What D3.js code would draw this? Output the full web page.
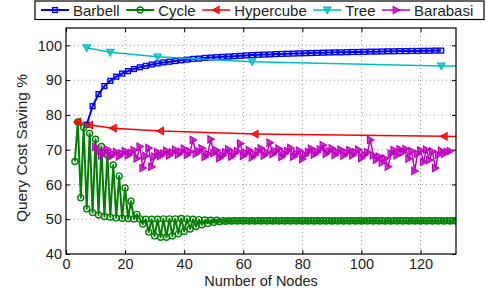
<!DOCTYPE html>
<html><head><meta charset="utf-8">
<script src="https://cdn.jsdelivr.net/npm/d3@7"></script>
<style>
html,body{margin:0;padding:0;background:#fff;}
text{font-family:"Liberation Sans",Arial,Helvetica,sans-serif;}
</style></head>
<body>
<svg id="chart" width="491" height="297"></svg>
<script>
// ---------- data ----------
const seriesNames = ["Barbell","Cycle","Hypercube","Tree","Barabasi"];
const xTicks = [0,20,40,60,80,100,120];
const yTicks = [40,50,60,70,80,90,100];

const barbellN = [7,9,11,13,15,17,19,21,23,25,27,29,31,33,35,37,39,41,43,45,47,49,51,53,55,57,59,61,63,65,67,69,71,73,75,77,79,81,83,85,87,89,91,93,95,97,99,101,103,105,107,109,111,113,115,117,119,121,123,125,127];
const barbellV = [77.2,82.5,86.0,88.3,89.8,91.0,91.9,92.6,93.2,93.7,94.1,94.5,94.8,95.1,95.3,95.5,95.7,95.9,96.1,96.2,96.4,96.5,96.6,96.7,96.8,96.9,97.0,97.1,97.2,97.3,97.35,97.4,97.5,97.55,97.6,97.65,97.7,97.75,97.8,97.85,97.9,97.95,98.0,98.0,98.05,98.1,98.1,98.15,98.2,98.2,98.25,98.3,98.3,98.35,98.35,98.4,98.4,98.45,98.45,98.5,98.5];

const cycleStart = 3; // values for n = 3,4,5,...,132
const cycleV = [
 66.6,78.0,56.2,76.4,53.0,74.7,51.9,73.0,51.2,70.9,
 50.8,68.5,50.6,65.6,50.4,62.4,50.3,59.0,50.2,55.2,
 50.1,51.4,50.1,48.6,50.0,46.3,50.0,45.2,50.0,44.8,
 50.1,44.8,50.1,45.2,50.1,45.8,50.2,46.5,50.1,47.2,
 50.0,47.9,49.9,48.4,49.8,48.8,49.7,49.1,49.7,49.3,
 49.6,49.4,49.6,49.5,49.6,49.5,49.6,49.5,49.6,49.5,
 49.6,49.5,49.6,49.5,49.6,49.5,49.6,49.5,49.6,49.5,
 49.6,49.5,49.6,49.5,49.6,49.5,49.6,49.5,49.6,49.5,
 49.6,49.5,49.6,49.5,49.6,49.5,49.6,49.5,49.6,49.5,
 49.6,49.5,49.6,49.5,49.6,49.5,49.6,49.5,49.6,49.5,
 49.6,49.5,49.6,49.5,49.6,49.5,49.6,49.5,49.6,49.5,
 49.6,49.5,49.6,49.5,49.6,49.5,49.6,49.5,49.6,49.5,
 49.6,49.5,49.6,49.5,49.6,49.5,49.6,49.5,49.6,49.5];

const hyperN = [4,8,16,32,64,128,256];
const hyperV = [78.0,77.1,76.2,75.4,74.5,73.85,73.2];

const treeN = [7,15,31,63,127,255];
const treeV = [99.3,98.0,96.7,95.3,94.1,93.0];

const barabasiStart = 10; // values for n = 10,11,...,130
const barabasiV = [
 70.8,69.5,68.3,69.2,70.1,68.0,68.7,69.4,68.1,68.9,
 69.6,68.4,69.1,69.9,67.5,70.9,64.7,68.2,70.5,65.1,
 68.0,69.3,68.2,68.9,69.7,68.4,69.2,70.0,68.6,69.4,
 70.3,68.5,69.4,72.8,68.8,69.5,70.4,67.9,68.8,73.0,
 69.0,69.8,67.6,68.3,69.2,70.1,68.0,68.9,69.6,71.8,
 68.2,69.0,69.9,67.8,68.6,69.5,70.4,68.3,69.1,72.0,
 68.7,69.5,70.3,67.9,68.8,69.6,70.5,68.0,68.9,69.7,
 67.3,68.5,69.4,70.3,68.6,69.3,70.1,71.3,68.8,69.6,
 70.4,68.5,69.2,70.0,68.3,69.1,69.9,68.4,69.2,70.0,
 67.6,68.5,69.3,72.8,68.4,67.1,68.0,66.3,67.5,65.1,
 68.9,69.9,68.4,70.1,69.2,70.2,67.4,69.6,63.9,68.8,
 69.8,66.5,70.0,67.0,69.5,64.7,68.6,69.7,68.8,69.4,69.6];

// ---------- build ----------
const series = [
 {name:seriesNames[0], color:"#0000ff", marker:"square", width:2,
  pts: barbellN.map((n,i)=>[n,barbellV[i]])},
 {name:seriesNames[1], color:"#008000", marker:"circle", width:2,
  pts: cycleV.map((v,i)=>[cycleStart+i,v])},
 {name:seriesNames[2], color:"#ff0000", marker:"tri-left", width:1.5,
  pts: hyperN.map((n,i)=>[n,hyperV[i]])},
 {name:seriesNames[3], color:"#00bfbf", marker:"tri-down", width:1.5,
  pts: treeN.map((n,i)=>[n,treeV[i]])},
 {name:seriesNames[4], color:"#bf00bf", marker:"tri-right", width:1.5,
  pts: barabasiV.map((v,i)=>[barabasiStart+i,v])}
];

const svg = d3.select("#chart");
const M = {left:66, right:456, top:28, bottom:254};
const x = d3.scaleLinear().domain([0,132]).range([M.left,M.right]);
const y = d3.scaleLinear().domain([40,105]).range([M.bottom,M.top]);

svg.append("defs").append("clipPath").attr("id","clip")
  .append("rect").attr("x",M.left).attr("y",M.top)
  .attr("width",M.right-M.left).attr("height",M.bottom-M.top);

// grid
const grid = svg.append("g");
grid.selectAll(".gx").data(xTicks.filter(t=>t>0)).enter().append("line")
  .attr("x1",d=>x(d)).attr("x2",d=>x(d)).attr("y1",M.top).attr("y2",M.bottom)
  .attr("stroke","#999").attr("stroke-width",1).attr("stroke-dasharray","1,3");
grid.selectAll(".gy").data(yTicks.filter(t=>t>40)).enter().append("line")
  .attr("y1",d=>y(d)).attr("y2",d=>y(d)).attr("x1",M.left).attr("x2",M.right)
  .attr("stroke","#999").attr("stroke-width",1).attr("stroke-dasharray","1,3");

// axes
const fs = 14.5;
svg.append("g").attr("transform",`translate(0,${M.bottom})`)
  .call(d3.axisBottom(x).tickValues(xTicks).tickSizeInner(-4).tickSizeOuter(0).tickPadding(5));
svg.append("g").attr("transform",`translate(${M.left},0)`)
  .call(d3.axisLeft(y).tickValues(yTicks).tickSizeInner(-4).tickSizeOuter(0).tickPadding(4));
svg.append("g").attr("transform",`translate(0,${M.top})`)
  .call(d3.axisTop(x).tickValues(xTicks).tickSizeInner(-4).tickSizeOuter(0).tickFormat(""));
svg.append("g").attr("transform",`translate(${M.right},0)`)
  .call(d3.axisRight(y).tickValues(yTicks).tickSizeInner(-4).tickSizeOuter(0).tickFormat(""));
svg.selectAll(".domain").remove();
svg.selectAll(".tick line").attr("stroke","#000");
svg.selectAll(".tick text").attr("font-size",fs).attr("fill","#222")
  .attr("font-family","Liberation Sans, Arial, sans-serif");

// series
const plot = svg.append("g").attr("clip-path","url(#clip)");
const line = d3.line().x(d=>x(d[0])).y(d=>y(d[1]));
function markerPath(type){
  const s = 3.6;
  if(type==="tri-left") return `M${-s},0L${s*0.8},${-s}L${s*0.8},${s}Z`;
  if(type==="tri-right") return `M${s},0L${-s*0.8},${-s}L${-s*0.8},${s}Z`;
  if(type==="tri-down") return `M0,${s}L${-s},${-s*0.8}L${s},${-s*0.8}Z`;
  return "";
}
function drawMarker(g,type,color){
  if(type==="square"){
    g.append("rect").attr("x",-2.4).attr("y",-2.4).attr("width",4.8).attr("height",4.8)
      .attr("fill","none").attr("stroke",color).attr("stroke-width",1.4);
  } else if(type==="circle"){
    g.append("circle").attr("r",3).attr("fill","none").attr("stroke",color).attr("stroke-width",1.4);
  } else {
    g.append("path").attr("d",markerPath(type)).attr("fill",color).attr("fill-opacity",0.75)
      .attr("stroke",color).attr("stroke-width",1.2).attr("stroke-linejoin","miter");
  }
}
series.forEach(s=>{
  const g = plot.append("g");
  g.append("path").datum(s.pts).attr("d",line).attr("fill","none")
    .attr("stroke",s.color).attr("stroke-width",s.width).attr("stroke-linejoin","round");
  g.selectAll("g.m").data(s.pts.filter(p=>p[0]<=132)).enter().append("g")
    .attr("transform",d=>`translate(${x(d[0])},${y(d[1])})`)
    .each(function(){ drawMarker(d3.select(this),s.marker,s.color); });
});

// box
svg.append("rect").attr("x",M.left).attr("y",M.top)
  .attr("width",M.right-M.left).attr("height",M.bottom-M.top)
  .attr("fill","none").attr("stroke","#000").attr("stroke-width",1.2);

// axis labels
svg.append("text").attr("x",(M.left+M.right)/2).attr("y",285.5)
  .attr("text-anchor","middle").attr("font-size",fs).attr("fill","#222").text("Number of Nodes");
svg.append("text").attr("transform",`translate(27,148) rotate(-90)`)
  .attr("text-anchor","middle").attr("font-size",15.5).attr("fill","#222").text("Query Cost Saving %");

// legend
const lg = svg.append("g");
lg.append("rect").attr("x",35).attr("y",1).attr("width",449).attr("height",18.5)
  .attr("fill","#fff").attr("stroke","#000").attr("stroke-width",1.2);
let cx = 41;
series.forEach(s=>{
  lg.append("line").attr("x1",cx).attr("x2",cx+28).attr("y1",10).attr("y2",10)
    .attr("stroke",s.color).attr("stroke-width",s.width);
  const mg = lg.append("g").attr("transform",`translate(${cx+14},10)`);
  drawMarker(mg,s.marker,s.color);
  const t = lg.append("text").attr("x",cx+32).attr("y",15.6).attr("font-size",15)
    .attr("fill","#222").text(s.name);
  cx = cx + 32 + t.node().getComputedTextLength() + 6.5;
});
</script>
</body></html>
